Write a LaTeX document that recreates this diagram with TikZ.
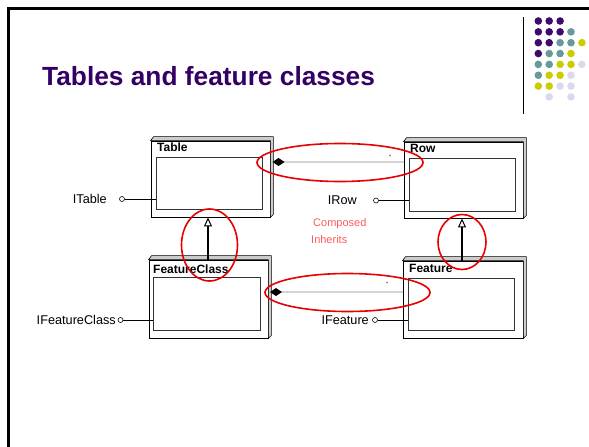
\documentclass[tikz,border=0pt]{standalone}
\usepackage{fontspec}
\setmainfont{Liberation Sans}
\usetikzlibrary{arrows.meta}
\definecolor{titlepurple}{RGB}{51,0,102}
\definecolor{dotP}{RGB}{61,11,107}
\definecolor{dotT}{RGB}{102,153,153}
\definecolor{dotY}{RGB}{204,204,0}
\definecolor{dotL}{RGB}{218,218,238}
\definecolor{ringred}{RGB}{230,0,0}
\definecolor{notered}{RGB}{255,90,90}
\tikzset{
  frontbox/.style={draw=black, line width=0.8pt, fill=white, inner sep=0pt},
  innerbox/.style={draw=black!80, line width=0.9pt, inner sep=0pt},
  bevel/.style={draw=black, line width=0.6pt, fill=black!20},
  boxtitle/.style={anchor=west, inner sep=0pt, font=\fontsize{12}{14}\selectfont\bfseries},
  lolly/.style={circle, draw=black, line width=0.6pt, fill=white, minimum size=5pt, inner sep=0pt},
  ifacelabel/.style={anchor=east, inner sep=0pt, font=\fontsize{12.7}{14}\selectfont},
  inh/.style={line width=2pt, -{Triangle[open, length=9pt, width=8pt, line width=1pt]}},
  comp/.style={draw=black!17, line width=2pt, {Diamond[fill=black, color=black, length=12pt, width=8pt]}-},
  redring/.style={draw=ringred, line width=1.6pt},
  mult/.style={inner sep=0pt, font=\fontsize{5}{5}\selectfont},
  notetext/.style={anchor=west, inner sep=0pt, text=notered, font=\fontsize{11}{13}\selectfont},
}
\begin{document}
\begin{tikzpicture}[x=1pt, y=-1pt]
\useasboundingbox (0,0) rectangle (589,447);
% slide frame
\draw[line width=3pt] (8,447) -- (8,8) -- (589,8);
\draw[line width=0.7pt] (523,17) -- (523,114);
% decorative dots
\foreach \c/\r/\col in {0/0/dotP,1/0/dotP,2/0/dotP,
  0/1/dotP,1/1/dotP,2/1/dotP,3/1/dotT,
  0/2/dotP,1/2/dotP,2/2/dotT,3/2/dotT,4/2/dotY,
  0/3/dotP,1/3/dotT,2/3/dotT,3/3/dotY,
  0/4/dotT,1/4/dotT,2/4/dotY,3/4/dotY,4/4/dotL,
  0/5/dotT,1/5/dotY,2/5/dotY,3/5/dotL,
  0/6/dotY,1/6/dotY,2/6/dotL,3/6/dotL,
  1/7/dotL,3/7/dotL}
  \fill[\col] ({538.3+10.9*\c},{21+10.85*\r}) circle[radius=3.8pt];
% title
\node[anchor=base west, inner sep=0pt, text=titlepurple, font=\fontsize{26.3}{30}\selectfont\bfseries] (title) at (42,85) {Tables and feature classes};

% boxes
\node[frontbox, minimum width=119pt, minimum height=76pt] (table) at (210.5,179) {};
\node[frontbox, minimum width=119pt, minimum height=76pt] (row) at (463.5,180) {};
\node[frontbox, minimum width=119pt, minimum height=78pt] (fclass) at (208.5,299) {};
\node[frontbox, minimum width=120pt, minimum height=77pt] (feature) at (463,299.5) {};
\foreach \b in {table,row,fclass,feature}
  \draw[bevel] (\b.north west) -- ++(3,-4) -| ([xshift=3pt,yshift=3pt]\b.south east) -- (\b.south east) -- (\b.north east) -- cycle;
\node[innerbox, minimum width=106pt, minimum height=52pt] (tablein) at (209,183) {};
\node[innerbox, minimum width=106pt, minimum height=53pt] (rowin) at (462,184.5) {};
\node[innerbox, minimum width=107pt, minimum height=53pt] (fclassin) at (206.5,303.5) {};
\node[innerbox, minimum width=106pt, minimum height=52pt] (featurein) at (461,304) {};

\node[boxtitle] (tabletitle) at (157,147.5) {Table};
\node[boxtitle] (rowtitle) at (410,148.5) {Row};
\node[boxtitle] (fclasstitle) at (153,269.5) {FeatureClass};
\node[boxtitle] (featuretitle) at (409,268.5) {Feature};

% interfaces
\node[lolly] (itc) at (122,199) {};
\node[lolly] (irc) at (376,200.5) {};
\node[lolly] (ifcc) at (120.5,320) {};
\node[lolly] (ifc) at (375,320) {};
\draw[line width=0.8pt] (itc) -- (itc -| tablein.west);
\draw[line width=0.8pt] (irc) -- (irc -| rowin.west);
\draw[line width=0.8pt] (ifcc) -- (ifcc -| fclassin.west);
\draw[line width=0.8pt] (ifc) -- (ifc -| featurein.west);
\node[ifacelabel] (itl) at (107,198.5) {ITable};
\node[ifacelabel] (irl) at (357,200) {IRow};
\node[ifacelabel] (ifcl) at (116,320) {IFeatureClass};
\node[ifacelabel] (ifl) at (369,320) {IFeature};

% inheritance
\draw[inh] ([xshift=-0.5pt]fclass.north) -- ([xshift=-0.5pt]fclass.north |- table.south);
\draw[inh] ([xshift=-1pt]feature.north) -- ([xshift=-1pt]feature.north |- row.south);

% composition
\coordinate (c1) at (272.5,162);
\coordinate (c2) at (270,292);
\draw[comp] (c1) -- (c1 -| row.west);
\draw[comp] (c2) -- (c2 -| feature.west);
\node[mult] (m1) at (390,157) {*};
\node[mult] (m2) at (387,283.5) {*};

% notes
\node[notetext] (composed) at (313,223.5) {Composed};
\node[notetext] (inherits) at (311,239.5) {Inherits};

% red rings
\draw[redring] (340,162.5) ellipse [x radius=83pt, y radius=19pt];
\draw[redring] (347.5,292.5) ellipse [x radius=82.5pt, y radius=19pt];
\draw[redring] (209.5,245) ellipse [x radius=28pt, y radius=36pt];
\draw[redring] (462,242) ellipse [x radius=24pt, y radius=27.5pt];
\end{tikzpicture}
\end{document}
